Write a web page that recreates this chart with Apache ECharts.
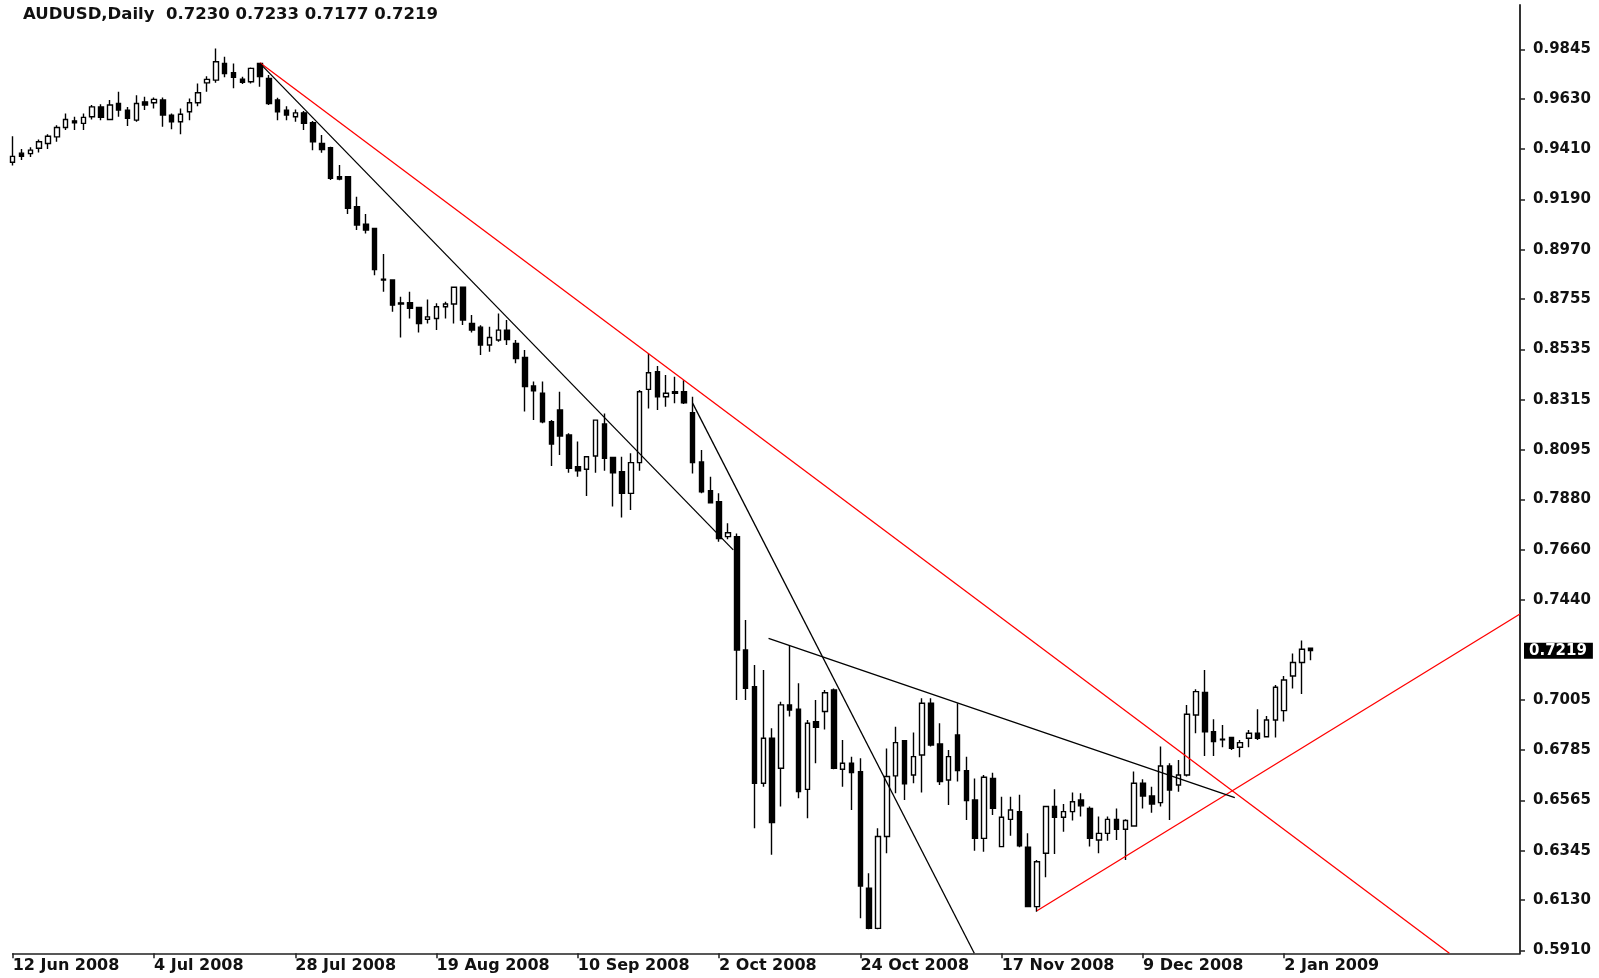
<!DOCTYPE html>
<html>
<head>
<meta charset="utf-8">
<title>AUDUSD Daily</title>
<script src="https://cdn.jsdelivr.net/npm/echarts@6/dist/echarts.min.js"></script>
<style>
  html, body { margin: 0; padding: 0; background: #ffffff; }
  #chart { width: 1599px; height: 978px; }
</style>
</head>
<body>
<div id="chart"></div>
<script>
// AUDUSD daily bars, 12 Jun 2008 onwards (bar index = position in the arrays)
const symbolName = 'AUDUSD,Daily';

const opens = [
  0.9352, 0.9392, 0.9390, 0.9413, 0.9434, 0.9463, 0.9504, 0.9533, 0.9522, 0.9551,
  0.9594, 0.9539, 0.9609, 0.9580, 0.9536, 0.9616, 0.9612, 0.9624, 0.9558, 0.9529,
  0.9573, 0.9612, 0.9699, 0.9711, 0.9784, 0.9743, 0.9715, 0.9704, 0.9784, 0.9718,
  0.9624, 0.9580, 0.9551, 0.9568, 0.9525, 0.9434, 0.9416, 0.9289, 0.9289, 0.9158,
  0.9082, 0.9063, 0.8841, 0.8838, 0.8738, 0.8739, 0.8718, 0.8666, 0.8670, 0.8721,
  0.8733, 0.8806, 0.8648, 0.8632, 0.8554, 0.8576, 0.8619, 0.8561, 0.8500, 0.8375,
  0.8343, 0.8219, 0.8270, 0.8161, 0.8022, 0.8011, 0.8069, 0.8209, 0.8063, 0.8001,
  0.7906, 0.8040, 0.8360, 0.8437, 0.8328, 0.8350, 0.8350, 0.8258, 0.8043, 0.7918,
  0.7869, 0.7717, 0.7717, 0.7222, 0.7062, 0.6640, 0.6836, 0.6705, 0.6982, 0.6963,
  0.6613, 0.6909, 0.6953, 0.7047, 0.6701, 0.6727, 0.6690, 0.6181, 0.6006, 0.6407,
  0.6672, 0.6826, 0.6676, 0.6763, 0.6989, 0.6811, 0.6654, 0.6851, 0.6695, 0.6567,
  0.6399, 0.6661, 0.6363, 0.6482, 0.6516, 0.6360, 0.6101, 0.6334, 0.6538, 0.6491,
  0.6516, 0.6567, 0.6530, 0.6392, 0.6421, 0.6482, 0.6439, 0.6453, 0.6640, 0.6584,
  0.6555, 0.6715, 0.6632, 0.6676, 0.6938, 0.7036, 0.6865, 0.6832, 0.6840, 0.6797,
  0.6836, 0.6858, 0.6843, 0.6916, 0.6957, 0.7108, 0.7167, 0.7230
];

const highs = [
  0.9466, 0.9410, 0.9418, 0.9452, 0.9475, 0.9514, 0.9565, 0.9551, 0.9565, 0.9602,
  0.9605, 0.9624, 0.9660, 0.9594, 0.9645, 0.9638, 0.9635, 0.9635, 0.9565, 0.9587,
  0.9631, 0.9696, 0.9728, 0.9849, 0.9813, 0.9784, 0.9726, 0.9766, 0.9787, 0.9733,
  0.9634, 0.9597, 0.9583, 0.9576, 0.9532, 0.9471, 0.9420, 0.9340, 0.9292, 0.9202,
  0.9126, 0.9065, 0.8951, 0.8841, 0.8765, 0.8787, 0.8720, 0.8753, 0.8736, 0.8743,
  0.8809, 0.8809, 0.8685, 0.8640, 0.8634, 0.8692, 0.8663, 0.8576, 0.8532, 0.8394,
  0.8394, 0.8226, 0.8350, 0.8168, 0.8132, 0.8069, 0.8229, 0.8255, 0.8066, 0.8066,
  0.8081, 0.8357, 0.8517, 0.8462, 0.8423, 0.8415, 0.8400, 0.8328, 0.8095, 0.7979,
  0.7906, 0.7775, 0.7731, 0.7353, 0.7156, 0.7134, 0.6880, 0.6996, 0.7239, 0.7076,
  0.6916, 0.7003, 0.7047, 0.7054, 0.6829, 0.6756, 0.6749, 0.6247, 0.6443, 0.6792,
  0.6887, 0.6829, 0.6861, 0.7011, 0.7011, 0.6902, 0.6785, 0.6989, 0.6756, 0.6661,
  0.6676, 0.6686, 0.6581, 0.6581, 0.6589, 0.6421, 0.6305, 0.6541, 0.6613, 0.6549,
  0.6599, 0.6596, 0.6538, 0.6494, 0.6494, 0.6530, 0.6482, 0.6691, 0.6657, 0.6625,
  0.6800, 0.6727, 0.6741, 0.6982, 0.7050, 0.7134, 0.6919, 0.6894, 0.6843, 0.6829,
  0.6872, 0.6963, 0.6934, 0.7069, 0.7108, 0.7207, 0.7263, 0.7233
];

const lows = [
  0.9338, 0.9362, 0.9375, 0.9395, 0.9410, 0.9442, 0.9493, 0.9493, 0.9493, 0.9539,
  0.9536, 0.9536, 0.9551, 0.9510, 0.9529, 0.9580, 0.9587, 0.9507, 0.9496, 0.9475,
  0.9536, 0.9597, 0.9660, 0.9699, 0.9723, 0.9675, 0.9694, 0.9696, 0.9682, 0.9602,
  0.9536, 0.9536, 0.9529, 0.9493, 0.9405, 0.9394, 0.9275, 0.9274, 0.9126, 0.9056,
  0.9041, 0.8859, 0.8787, 0.8699, 0.8587, 0.8670, 0.8608, 0.8648, 0.8619, 0.8670,
  0.8648, 0.8641, 0.8608, 0.8510, 0.8525, 0.8568, 0.8554, 0.8474, 0.8263, 0.8226,
  0.8212, 0.8025, 0.8073, 0.7996, 0.7979, 0.7894, 0.7996, 0.8005, 0.7848, 0.7801,
  0.7833, 0.8005, 0.8277, 0.8270, 0.8284, 0.8299, 0.8296, 0.7993, 0.7906, 0.7862,
  0.7695, 0.7705, 0.7003, 0.7003, 0.6443, 0.6625, 0.6327, 0.6538, 0.6931, 0.6574,
  0.6487, 0.6727, 0.6875, 0.6701, 0.6625, 0.6523, 0.6050, 0.6002, 0.6002, 0.6334,
  0.6596, 0.6567, 0.6640, 0.6599, 0.6800, 0.6632, 0.6545, 0.6647, 0.6479, 0.6345,
  0.6341, 0.6501, 0.6360, 0.6410, 0.6360, 0.6098, 0.6079, 0.6229, 0.6331, 0.6428,
  0.6477, 0.6494, 0.6363, 0.6334, 0.6389, 0.6392, 0.6305, 0.6450, 0.6530, 0.6511,
  0.6538, 0.6479, 0.6603, 0.6669, 0.6858, 0.6759, 0.6759, 0.6797, 0.6785, 0.6753,
  0.6797, 0.6829, 0.6840, 0.6840, 0.6909, 0.7054, 0.7030, 0.7177
];

const closes = [
  0.9378, 0.9378, 0.9405, 0.9442, 0.9466, 0.9504, 0.9539, 0.9525, 0.9548, 0.9594,
  0.9548, 0.9602, 0.9580, 0.9544, 0.9609, 0.9602, 0.9627, 0.9558, 0.9529, 0.9562,
  0.9612, 0.9656, 0.9714, 0.9791, 0.9740, 0.9723, 0.9701, 0.9762, 0.9726, 0.9609,
  0.9573, 0.9558, 0.9568, 0.9522, 0.9442, 0.9408, 0.9282, 0.9279, 0.9151, 0.9078,
  0.9056, 0.8884, 0.8838, 0.8728, 0.8733, 0.8714, 0.8648, 0.8677, 0.8721, 0.8733,
  0.8806, 0.8663, 0.8619, 0.8554, 0.8587, 0.8619, 0.8578, 0.8495, 0.8372, 0.8354,
  0.8219, 0.8121, 0.8156, 0.8015, 0.8005, 0.8066, 0.8226, 0.8059, 0.7996, 0.7906,
  0.8040, 0.8350, 0.8433, 0.8328, 0.8343, 0.8343, 0.8302, 0.8040, 0.7913, 0.7865,
  0.7709, 0.7734, 0.7222, 0.7054, 0.6640, 0.6836, 0.6468, 0.6982, 0.6960, 0.6603,
  0.6902, 0.6884, 0.7035, 0.6705, 0.6727, 0.6686, 0.6191, 0.6006, 0.6407, 0.6669,
  0.6817, 0.6637, 0.6756, 0.6989, 0.6807, 0.6647, 0.6756, 0.6695, 0.6564, 0.6399,
  0.6666, 0.6530, 0.6491, 0.6523, 0.6366, 0.6101, 0.6297, 0.6538, 0.6491, 0.6516,
  0.6559, 0.6541, 0.6399, 0.6421, 0.6482, 0.6439, 0.6477, 0.6640, 0.6584, 0.6549,
  0.6715, 0.6610, 0.6676, 0.6941, 0.7040, 0.6865, 0.6822, 0.6830, 0.6792, 0.6817,
  0.6858, 0.6836, 0.6916, 0.7059, 0.7091, 0.7167, 0.7225, 0.7219
];

// Time-axis labels and the bars they sit on
const dateTickBars = [0, 16, 32, 48, 64, 80, 96, 112, 128, 144];
const dateTickLabels = [
  '12 Jun 2008', '4 Jul 2008', '28 Jul 2008', '19 Aug 2008', '10 Sep 2008',
  '2 Oct 2008', '24 Oct 2008', '17 Nov 2008', '9 Dec 2008', '2 Jan 2009'
];

// Price scale labels
const priceTickLabels = [
  '0.5910', '0.6130', '0.6345', '0.6565', '0.6785', '0.7005', '0.7440', '0.7660',
  '0.7880', '0.8095', '0.8315', '0.8535', '0.8755', '0.8970', '0.9190', '0.9410',
  '0.9630', '0.9845'
];

// Trend lines: [bar, price] end points
const redTrendLines = [
  [[28, 0.9787], [162.7, 0.5897]],
  [[116, 0.6083], [170.7, 0.7379]]
];
const blackTrendLines = [
  [[28, 0.9784], [81.6, 0.7659]],
  [[77, 0.8300], [108.9, 0.5897]],
  [[85.6, 0.7273], [138.4, 0.6577]]
];

// Visible window of the chart (bars, price)
const barRange = [0, 170.7];
const priceRange = [0.5897, 1.0039];

const FONT = 'DejaVu Sans';
const last = opens.length - 1;
const headerText = symbolName + '  ' +
  [opens[last], highs[last], lows[last], closes[last]].map(v => v.toFixed(4)).join(' ');

const candles = opens.map((o, i) => [i, o, closes[i], lows[i], highs[i]]);
const priceTickValues = priceTickLabels.map(Number);

function trendSeries(points, color) {
  return {
    type: 'line',
    data: points,
    symbol: 'none',
    silent: true,
    clip: true,
    z: 5,
    lineStyle: { color: color, width: 1.3 },
    animation: false
  };
}

const chart = echarts.init(document.getElementById('chart'), null, { renderer: 'canvas' });

chart.setOption({
  backgroundColor: '#ffffff',
  animation: false,
  title: {
    text: headerText,
    left: 23,
    top: 6,
    padding: 0,
    textStyle: { fontFamily: FONT, fontSize: 16.5, fontWeight: 'bold', color: '#111' }
  },
  grid: { left: 12.7, right: 79, top: 5, bottom: 24.7, containLabel: false },
  xAxis: {
    type: 'value',
    min: barRange[0],
    max: barRange[1],
    axisLine: { show: true, onZero: false, lineStyle: { color: '#222', width: 1.5 } },
    axisTick: { show: true, length: 5, customValues: dateTickBars, lineStyle: { color: '#222', width: 1.5 } },
    axisLabel: {
      customValues: dateTickBars,
      formatter: v => dateTickLabels[dateTickBars.indexOf(v)] || '',
      align: 'left',
      margin: 5,
      fontFamily: FONT, fontSize: 16, fontWeight: 'bold', color: '#111'
    },
    splitLine: { show: false }
  },
  yAxis: [{
    type: 'value',
    position: 'right',
    min: priceRange[0],
    max: priceRange[1],
    axisLine: { show: true, onZero: false, lineStyle: { color: '#333', width: 2 } },
    axisTick: { show: true, length: 5, customValues: priceTickValues, lineStyle: { color: '#222', width: 1.5 } },
    axisLabel: {
      customValues: priceTickValues,
      formatter: v => v.toFixed(4),
      margin: 13,
      fontFamily: FONT, fontSize: 15, fontWeight: 'bold', color: '#111'
    },
    splitLine: { show: false }
  }, {
    // last close marker on the price scale
    type: 'value',
    position: 'right',
    min: priceRange[0],
    max: priceRange[1],
    axisLine: { show: false, onZero: false },
    axisTick: { show: false },
    axisLabel: {
      customValues: [closes[last]],
      formatter: v => v.toFixed(4),
      margin: 4,
      backgroundColor: '#000',
      padding: [1, 6, 1, 5],
      lineHeight: 14,
      fontFamily: FONT, fontSize: 15, fontWeight: 'bold', color: '#fff'
    },
    splitLine: { show: false }
  }],
  series: [
    {
      type: 'candlestick',
      data: candles,
      barWidth: 5,
      z: 2,
      itemStyle: {
        color: '#ffffff',
        color0: '#000000',
        borderColor: '#000000',
        borderColor0: '#000000',
        borderWidth: 1.4
      }
    },
    ...redTrendLines.map(p => trendSeries(p, '#ff0000')),
    ...blackTrendLines.map(p => trendSeries(p, '#000000'))
  ]
});
</script>
</body>
</html>
